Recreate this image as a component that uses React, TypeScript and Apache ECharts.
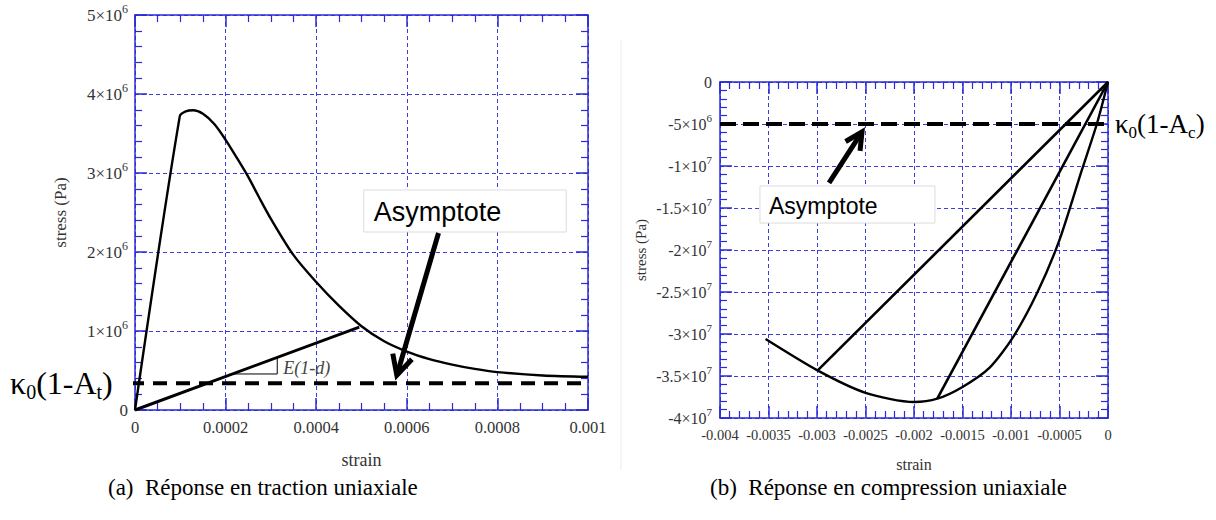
import React, { useEffect, useRef } from "react";
import * as echarts from "echarts";

// ---------- (a) traction ----------
const tensionStrain = [0, 0.0000989, 0.000112, 0.000128, 0.00015, 0.000175, 0.0002, 0.000225, 0.00025, 0.000275, 0.0003, 0.00035, 0.0004, 0.00045, 0.0005, 0.00055, 0.0006, 0.00065, 0.0007, 0.00075, 0.0008, 0.0009, 0.001];
const tensionStress = [0, 3.72e6, 3.78e6, 3.795e6, 3.75e6, 3.62e6, 3.42e6, 3.19e6, 2.95e6, 2.68e6, 2.42e6, 1.96e6, 1.62e6, 1.32e6, 1.06e6, 0.87e6, 0.74e6, 0.645e6, 0.575e6, 0.52e6, 0.48e6, 0.437e6, 0.42e6];
const tensionUnloadStrain = [0, 0.000495];
const tensionUnloadStress = [0, 1.05e6];
const tensionAsymptote = 0.34e6;
const slopeTriangleStrain = [0.000215, 0.000314, 0.000314];
const slopeTriangleStress = [0.456e6, 0.456e6, 0.666e6];
const tensionXTicks = ["0", "0.0002", "0.0004", "0.0006", "0.0008", "0.001"];
const tensionYMantissa = ["0", "1", "2", "3", "4", "5"];
const tensionYExponent = ["", "6", "6", "6", "6", "6"];

// ---------- (b) compression ----------
const compStrain = [0, -0.000115, -0.00027, -0.0005, -0.00073, -0.00098, -0.00122, -0.0015, -0.00176, -0.002, -0.0025, -0.003, -0.00353];
const compStress = [0, -5e6, -1.05e7, -1.88e7, -2.51e7, -3.04e7, -3.4e7, -3.63e7, -3.77e7, -3.81e7, -3.7e7, -3.43e7, -3.06e7];
const compUnloadAStrain = [-0.00299, 0];
const compUnloadAStress = [-3.43e7, 0];
const compUnloadBStrain = [-0.00176, 0];
const compUnloadBStress = [-3.77e7, 0];
const compAsymptote = -5e6;
const compXTicks = ["-0.004", "-0.0035", "-0.003", "-0.0025", "-0.002", "-0.0015", "-0.001", "-0.0005", "0"];
const compYMantissa = ["-4", "-3.5", "-3", "-2.5", "-2", "-1.5", "-1", "-5", "0"];
const compYExponent = ["7", "7", "7", "7", "7", "7", "7", "6", ""];

// annotation anchors (data space)
const leftArrowTail = [0.00067, 2.24e6];
const leftArrowTip = [0.000578, 0.44e6];
const leftBoxA = [0.000505, 2.785e6];
const leftBoxB = [0.000952, 2.253e6];
const rightArrowTail = [-0.002876, -1.2e7];
const rightArrowTip = [-0.002536, -5.95e6];
const rightBoxA = [-0.003588, -1.238e7];
const rightBoxB = [-0.001784, -1.679e7];

const zip = (a: number[], b: number[]) => a.map((v, i) => [v, b[i]]);

const AX = "#2a2ad8";
const GRID = "#3c3ce0";
const SERIF = "'Liberation Serif', 'DejaVu Serif', serif";
const SANS = "'Liberation Sans', Arial, sans-serif";
const LBL = "#333333";

function axisCommon(min: number, max: number, interval: number, minorSplit: number) {
  return {
    type: "value" as const,
    min,
    max,
    interval,
    axisLine: { show: true, onZero: false, lineStyle: { color: AX, width: 1.5 } },
    axisTick: { show: true, inside: true, length: 12, lineStyle: { color: AX, width: 1.5 } },
    minorTick: { show: true, splitNumber: minorSplit, length: 7, lineStyle: { color: AX, width: 1.2 } },
  };
}

function xLabels(ticks: string[], min: number, interval: number, size: number, margin: number) {
  return {
    show: true,
    margin,
    color: LBL,
    fontFamily: SERIF,
    fontSize: size,
    formatter: (v: number) => ticks[Math.round((v - min) / interval)] ?? "",
  };
}

function yLabels(mant: string[], exp: string[], min: number, interval: number, size: number, margin: number) {
  return {
    show: true,
    margin,
    formatter: (v: number) => {
      const i = Math.round((v - min) / interval);
      if (!exp[i]) return `{m|${mant[i]}}`;
      return `{m|${mant[i]}×10}{e|${exp[i]}}`;
    },
    rich: {
      m: { fontFamily: SERIF, fontSize: size, color: LBL, lineHeight: 24 },
      e: { fontFamily: SERIF, fontSize: Math.round(size * 0.68), color: LBL, verticalAlign: "top", lineHeight: 12 },
    },
  };
}

const splitDotted = { show: true, lineStyle: { color: GRID, type: [4, 3] as number[], width: 1 } };
const nameStyle = (size: number) => ({ fontFamily: SERIF, fontSize: size, color: LBL });

function lineSeries(data: number[][], xi: number, yi: number, width: number, extra: any = {}) {
  return {
    type: "line",
    xAxisIndex: xi,
    yAxisIndex: yi,
    data,
    symbol: "none",
    showSymbol: false,
    silent: true,
    clip: false,
    lineStyle: { color: "#000", width, ...(extra.lineStyle || {}) },
    smooth: extra.smooth ?? false,
    z: extra.z ?? 3,
  };
}

export default function App() {
  const ref = useRef<HTMLDivElement>(null);

  useEffect(() => {
    if (!ref.current) return;
    const chart = echarts.init(ref.current, undefined, { renderer: "svg" });

    const option: any = {
      animation: false,
      backgroundColor: "#ffffff",
      grid: [
        { left: 135, top: 15, width: 453, height: 395, containLabel: false },
        { left: 720, top: 82, width: 388, height: 336, containLabel: false },
      ],
      xAxis: [
        {
          ...axisCommon(0, 0.001, 0.0002, 4),
          gridIndex: 0,
          position: "bottom",
          splitLine: splitDotted,
          axisLabel: xLabels(tensionXTicks, 0, 0.0002, 16.5, 9),
          name: "strain",
          nameLocation: "middle",
          nameGap: 41,
          nameTextStyle: nameStyle(18),
        },
        {
          ...axisCommon(0, 0.001, 0.0002, 4),
          gridIndex: 0,
          position: "top",
          splitLine: { show: false },
          axisLabel: { show: false },
        },
        {
          ...axisCommon(-0.004, 0, 0.0005, 5),
          gridIndex: 1,
          position: "bottom",
          splitLine: splitDotted,
          axisLabel: xLabels(compXTicks, -0.004, 0.0005, 14.5, 9),
          name: "strain",
          nameLocation: "middle",
          nameGap: 38,
          nameTextStyle: nameStyle(16),
        },
        {
          ...axisCommon(-0.004, 0, 0.0005, 5),
          gridIndex: 1,
          position: "top",
          splitLine: { show: false },
          axisLabel: { show: false },
        },
      ],
      yAxis: [
        {
          ...axisCommon(0, 5e6, 1e6, 5),
          gridIndex: 0,
          position: "left",
          splitLine: splitDotted,
          axisLabel: yLabels(tensionYMantissa, tensionYExponent, 0, 1e6, 17, 7),
          name: "stress (Pa)",
          nameLocation: "middle",
          nameGap: 66,
          nameTextStyle: nameStyle(17),
        },
        {
          ...axisCommon(0, 5e6, 1e6, 5),
          gridIndex: 0,
          position: "right",
          splitLine: { show: false },
          axisLabel: { show: false },
        },
        {
          ...axisCommon(-4e7, 0, 5e6, 5),
          gridIndex: 1,
          position: "left",
          splitLine: splitDotted,
          axisLabel: yLabels(compYMantissa, compYExponent, -4e7, 5e6, 16, 8),
          name: "stress (Pa)",
          nameLocation: "middle",
          nameGap: 72,
          nameTextStyle: nameStyle(15),
        },
        {
          ...axisCommon(-4e7, 0, 5e6, 5),
          gridIndex: 1,
          position: "right",
          splitLine: { show: false },
          axisLabel: { show: false },
        },
      ],
      series: [
        lineSeries(zip(tensionStrain, tensionStress), 0, 0, 2.4, { smooth: 0.3 }),
        lineSeries(zip(tensionUnloadStrain, tensionUnloadStress), 0, 0, 3),
        lineSeries(zip(slopeTriangleStrain, slopeTriangleStress), 0, 0, 1),
        lineSeries([[-0.000011, tensionAsymptote], [0.001, tensionAsymptote]], 0, 0, 4, { lineStyle: { type: [14, 9] }, z: 4 }),
        lineSeries(zip(compStrain, compStress), 2, 2, 2.4, { smooth: 0.25 }),
        lineSeries(zip(compUnloadAStrain, compUnloadAStress), 2, 2, 2.6),
        lineSeries(zip(compUnloadBStrain, compUnloadBStress), 2, 2, 2.6),
        lineSeries([[-0.004, compAsymptote], [0, compAsymptote]], 2, 2, 4, { lineStyle: { type: [16, 7] }, z: 4 }),
      ],
    };
    chart.setOption(option);

    const px = (xi: number, yi: number, p: number[]) =>
      chart.convertToPixel({ xAxisIndex: xi, yAxisIndex: yi }, p) as number[];

    const arrow = (tail: number[], tip: number[], len: number, angDeg: number) => {
      const a = Math.atan2(tail[1] - tip[1], tail[0] - tip[0]);
      const d = (angDeg * Math.PI) / 180;
      const arm1 = [tip[0] + len * Math.cos(a + d), tip[1] + len * Math.sin(a + d)];
      const arm2 = [tip[0] + len * Math.cos(a - d), tip[1] + len * Math.sin(a - d)];
      return [
        { type: "line", shape: { x1: tail[0], y1: tail[1], x2: tip[0], y2: tip[1] }, style: { stroke: "#000", lineWidth: 5 }, z: 100 },
        { type: "polyline", shape: { points: [arm1, tip, arm2] }, style: { stroke: "#000", lineWidth: 5, fill: null, lineJoin: "miter" }, z: 100 },
      ];
    };

    const lt = px(0, 0, leftArrowTail), lp = px(0, 0, leftArrowTip);
    const lbA = px(0, 0, leftBoxA), lbB = px(0, 0, leftBoxB);
    const rt = px(2, 2, rightArrowTail), rp = px(2, 2, rightArrowTip);
    const rbA = px(2, 2, rightBoxA), rbB = px(2, 2, rightBoxB);
    const triCorner = px(0, 0, [slopeTriangleStrain[1], (slopeTriangleStress[1] + slopeTriangleStress[2]) / 2]);
    const lAsym = px(0, 0, [0, tensionAsymptote]);
    const rAsym = px(2, 2, [0, compAsymptote]);

    const kRich = (size: number) => ({
      k: { fontFamily: SERIF, fontSize: size, fill: "#000", lineHeight: size + 6 },
      s: { fontFamily: SERIF, fontSize: Math.round(size * 0.64), fill: "#000", verticalAlign: "bottom", lineHeight: Math.round(size * 0.64) },
    });

    chart.setOption({
      graphic: [
        { type: "line", shape: { x1: 621, y1: 40, x2: 621, y2: 470 }, style: { stroke: "#ececec", lineWidth: 1 }, z: 1 },
        // left box
        { type: "rect", shape: { x: lbA[0], y: lbA[1], width: lbB[0] - lbA[0], height: lbB[1] - lbA[1] }, style: { fill: "#fff", stroke: "#dcdcdc", lineWidth: 1 }, z: 90 },
        { type: "text", x: lbA[0] + 10, y: (lbA[1] + lbB[1]) / 2 + 1, style: { text: "Asymptote", fontFamily: SANS, fontSize: 27, fill: "#000", verticalAlign: "middle" }, z: 91 },
        ...arrow(lt, lp, 22, 27),
        // right box
        { type: "rect", shape: { x: rbA[0], y: rbA[1], width: rbB[0] - rbA[0], height: rbB[1] - rbA[1] }, style: { fill: "#fff", stroke: "#dcdcdc", lineWidth: 1 }, z: 90 },
        { type: "text", x: rbA[0] + 9, y: (rbA[1] + rbB[1]) / 2 + 1, style: { text: "Asymptote", fontFamily: SANS, fontSize: 23, fill: "#000", verticalAlign: "middle" }, z: 91 },
        ...arrow(rt, rp, 19, 27),
        // slope label
        { type: "text", x: triCorner[0] + 6, y: triCorner[1] + 2, style: { text: "E(1-d)", fontFamily: SERIF, fontStyle: "italic", fontSize: 18, fill: "#444", verticalAlign: "middle" }, z: 50 },
        // kappa labels
        { type: "text", x: 10, y: lAsym[1], style: { text: "{k|κ}{s|0}{k|(1-A}{s|t}{k|)}", rich: kRich(32), verticalAlign: "middle" }, z: 50 },
        { type: "text", x: rAsym[0] + 7, y: rAsym[1], style: { text: "{k|κ}{s|0}{k|(1-A}{s|c}{k|)}", rich: kRich(27), verticalAlign: "middle" }, z: 50 },
        // captions
        { type: "text", x: 108, y: 487, style: { text: "(a)  Réponse en traction uniaxiale", fontFamily: SERIF, fontSize: 23, fill: "#000", verticalAlign: "middle" } },
        { type: "text", x: 710, y: 487, style: { text: "(b)  Réponse en compression uniaxiale", fontFamily: SERIF, fontSize: 23, fill: "#000", verticalAlign: "middle" } },
      ],
    });

    return () => chart.dispose();
  }, []);

  return <div ref={ref} style={{ position: "absolute", left: 0, top: 0, width: 1216, height: 520 }} />;
}
